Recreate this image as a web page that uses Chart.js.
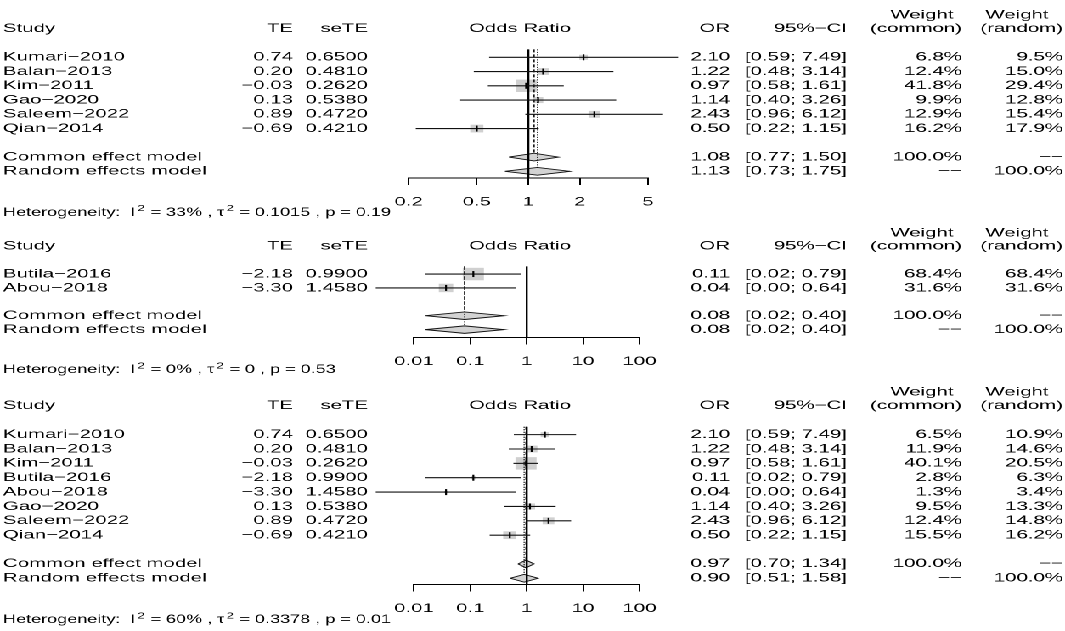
<!DOCTYPE html>
<html>
<head>
<meta charset="utf-8">
<script src="https://cdn.jsdelivr.net/npm/chart.js@4.4.1/dist/chart.umd.min.js"></script>
<style>
  html, body { margin: 0; padding: 0; background: #fff; overflow: hidden; }
  /* the reference is an R forest plot stretched sideways, so draw narrow and stretch */
  #stage { position: absolute; left: 0; top: 0; width: 627px; height: 631px; transform: scaleX(1.6986); transform-origin: 0 0; }
  #stage canvas { position: absolute; left: 0; }
</style>
</head>
<body>
<div id="stage">
  <canvas id="p1" width="627" height="226" style="top:0px"></canvas>
  <canvas id="p2" width="627" height="165" style="top:218px"></canvas>
  <canvas id="p3" width="627" height="254" style="top:377px"></canvas>
</div>
<script>
// ---- panel 1 ----
const p1Studies = ['Kumari−2010', 'Balan−2013', 'Kim−2011', 'Gao−2020', 'Saleem−2022', 'Qian−2014'];
const p1TE = [0.74, 0.20, -0.03, 0.13, 0.89, -0.69];
const p1seTE = [0.6500, 0.4810, 0.2620, 0.5380, 0.4720, 0.4210];
const p1OR = [2.10, 1.22, 0.97, 1.14, 2.43, 0.50];
const p1Lo = [0.59, 0.48, 0.58, 0.40, 0.96, 0.22];
const p1Hi = [7.49, 3.14, 1.61, 3.26, 6.12, 1.15];
const p1WCommon = [6.8, 12.4, 41.8, 9.9, 12.9, 16.2];
const p1WRandom = [9.5, 15.0, 29.4, 12.8, 15.4, 17.9];
const p1Common = [1.08, 0.77, 1.50];
const p1Random = [1.13, 0.73, 1.75];
const p1Ticks = [0.2, 0.5, 1, 2, 5];
const p1Het = ['33%', '0.1015', '0.19'];

// ---- panel 2 ----
const p2Studies = ['Butila−2016', 'Abou−2018'];
const p2TE = [-2.18, -3.30];
const p2seTE = [0.9900, 1.4580];
const p2OR = [0.113, 0.037];
const p2Lo = [0.016, 0.0021];
const p2Hi = [0.79, 0.64];
const p2WCommon = [68.4, 31.6];
const p2WRandom = [68.4, 31.6];
const p2Common = [0.079, 0.016, 0.396];
const p2Random = [0.079, 0.016, 0.396];
const p2Ticks = [0.01, 0.1, 1, 10, 100];
const p2Het = ['0%', '0', '0.53'];

// ---- panel 3 ----
const p3Studies = ['Kumari−2010', 'Balan−2013', 'Kim−2011', 'Butila−2016', 'Abou−2018', 'Gao−2020', 'Saleem−2022', 'Qian−2014'];
const p3TE = [0.74, 0.20, -0.03, -2.18, -3.30, 0.13, 0.89, -0.69];
const p3seTE = [0.6500, 0.4810, 0.2620, 0.9900, 1.4580, 0.5380, 0.4720, 0.4210];
const p3OR = [2.10, 1.22, 0.97, 0.113, 0.037, 1.14, 2.43, 0.50];
const p3Lo = [0.59, 0.48, 0.58, 0.016, 0.0021, 0.40, 0.96, 0.22];
const p3Hi = [7.49, 3.14, 1.61, 0.79, 0.64, 3.26, 6.12, 1.15];
const p3WCommon = [6.5, 11.9, 40.1, 2.8, 1.3, 9.5, 12.4, 15.5];
const p3WRandom = [10.9, 14.6, 20.5, 6.3, 3.4, 13.3, 14.8, 16.2];
const p3Common = [0.97, 0.70, 1.34];
const p3Random = [0.90, 0.51, 1.58];
const p3Ticks = [0.01, 0.1, 1, 10, 100];
const p3Het = ['60%', '0.3378', '0.01'];

const FONT = "'Liberation Sans', Arial, sans-serif";
const FSIZE = 12;
const ROW = 15;       // px per row
const TOP = 1.45;     // where the reference lines start (rows)
const COL = { study: 1.8, te: 172.5, sete: 216.6, title: 306.1, or: 429.8, ci: 498.6,
              wc: 566.3, wcHead: 542.8, wr: 625.8, wrHead: 598.7 };

const panels = [
  { id: 'p1', studies: p1Studies, te: p1TE, se: p1seTE, or: p1OR, lo: p1Lo, hi: p1Hi,
    wc: p1WCommon, wr: p1WRandom, common: p1Common, random: p1Random, ticks: p1Ticks, het: p1Het,
    left: 240.6, right: 381.5, axisY: 178 },
  { id: 'p2', studies: p2Studies, te: p2TE, se: p2seTE, or: p2OR, lo: p2Lo, hi: p2Hi,
    wc: p2WCommon, wr: p2WRandom, common: p2Common, random: p2Random, ticks: p2Ticks, het: p2Het,
    left: 243.7, right: 376.5, axisY: 119.5 },
  { id: 'p3', studies: p3Studies, te: p3TE, se: p3seTE, or: p3OR, lo: p3Lo, hi: p3Hi,
    wc: p3WCommon, wr: p3WRandom, common: p3Common, random: p3Random, ticks: p3Ticks, het: p3Het,
    left: 243.7, right: 376.5, axisY: 207.5 }
];

const fmtTE = v => (v < 0 ? '−' : '') + Math.abs(v).toFixed(2);
const fmtCI = (lo, hi) => '[' + lo.toFixed(2) + '; ' + hi.toFixed(2) + ']';

function seg(data, color, width, dash, order) {
  return { data, showLine: true, borderColor: color, borderWidth: width, borderDash: dash,
           pointRadius: 0, fill: false, clip: false, order };
}

function buildChart(p) {
  const canvas = document.getElementById(p.id);
  const H = canvas.height;
  const n = p.studies.length;
  const commonRow = n + 3, randomRow = n + 4;
  const yMin = -1.4, yMax = p.axisY / ROW - 1.4;
  const wMax = Math.max(...p.wc);

  const datasets = [];
  // no-effect line and the two pooled estimate lines
  datasets.push(seg([{ x: 1, y: TOP }, { x: 1, y: yMax }], '#000', 1.2, [], 3));
  datasets.push(seg([{ x: p.common[0], y: TOP }, { x: p.common[0], y: commonRow - 0.27 }], '#111', 0.8, [3, 2], 3));
  datasets.push(seg([{ x: p.random[0], y: TOP }, { x: p.random[0], y: randomRow - 0.27 }], '#111', 0.8, [1, 1.5], 3));
  // weight boxes
  datasets.push({
    data: p.or.map((v, i) => ({ x: v, y: i + 2 })),
    pointStyle: 'rect',
    pointRadius: p.wc.map(w => 8.8 * Math.sqrt(w / wMax)),
    backgroundColor: '#d0d0d0', borderWidth: 0, clip: false, order: 5
  });
  // confidence intervals
  p.lo.forEach((lo, i) => {
    datasets.push(seg([{ x: lo, y: i + 2 }, { x: p.hi[i], y: i + 2 }], '#111', 1.1, [], 1));
  });
  // point estimate marks
  datasets.push({
    data: p.or.map((v, i) => ({ x: v, y: i + 2 })),
    pointStyle: 'line', rotation: 90, pointRadius: 3,
    borderColor: '#000', borderWidth: 1.1, clip: false, order: 0
  });
  // diamonds
  [[p.common, commonRow], [p.random, randomRow]].forEach(([d, r]) => {
    datasets.push({
      data: [{ x: d[1], y: r }, { x: d[0], y: r - 0.27 }, { x: d[2], y: r }, { x: d[0], y: r + 0.27 }, { x: d[1], y: r }],
      showLine: true, fill: 'shape', backgroundColor: '#d3d3d3', borderColor: '#111',
      borderWidth: 0.9, pointRadius: 0, tension: 0, clip: false, order: 4
    });
  });

  const textPlugin = {
    id: 'forestText',
    afterDraw(chart) {
      const ctx = chart.ctx;
      const y = r => chart.scales.y.getPixelForValue(r);
      const put = (s, x, yy, align) => { ctx.textAlign = align; ctx.fillText(s, x, yy); };
      ctx.save();
      ctx.fillStyle = '#000';
      ctx.textBaseline = 'middle';
      ctx.font = FSIZE + 'px ' + FONT;

      put('Weight', COL.wcHead, y(-0.95), 'center');
      put('Weight', COL.wrHead, y(-0.95), 'center');
      put('Study', COL.study, y(0), 'left');
      put('TE', COL.te, y(0), 'right');
      put('seTE', COL.sete, y(0), 'right');
      put('Odds Ratio', COL.title, y(0), 'center');
      put('OR', COL.or, y(0), 'right');
      put('95%−CI', COL.ci, y(0), 'right');
      put('(common)', COL.wc, y(0), 'right');
      put('(random)', COL.wr, y(0), 'right');

      p.studies.forEach((s, i) => {
        const yy = y(i + 2);
        put(s, COL.study, yy, 'left');
        put(fmtTE(p.te[i]), COL.te, yy, 'right');
        put(p.se[i].toFixed(4), COL.sete, yy, 'right');
        put(p.or[i].toFixed(2), COL.or, yy, 'right');
        put(fmtCI(p.lo[i], p.hi[i]), COL.ci, yy, 'right');
        put(p.wc[i].toFixed(1) + '%', COL.wc, yy, 'right');
        put(p.wr[i].toFixed(1) + '%', COL.wr, yy, 'right');
      });

      const yc = y(commonRow), yr = y(randomRow);
      put('Common effect model', COL.study, yc, 'left');
      put(p.common[0].toFixed(2), COL.or, yc, 'right');
      put(fmtCI(p.common[1], p.common[2]), COL.ci, yc, 'right');
      put('100.0%', COL.wc, yc, 'right');
      put('−−', COL.wr, yc, 'right');
      put('Random effects model', COL.study, yr, 'left');
      put(p.random[0].toFixed(2), COL.or, yr, 'right');
      put(fmtCI(p.random[1], p.random[2]), COL.ci, yr, 'right');
      put('−−', COL.wc, yr, 'right');
      put('100.0%', COL.wr, yr, 'right');

      // heterogeneity line with superscripts, a bit narrower like the original font
      const yh = y(randomRow + 2.9);
      const parts = [['Heterogeneity:  I', 0], ['2', 1], [' = ' + p.het[0] + ' , τ', 0], ['2', 1],
                     [' = ' + p.het[1] + ' , p = ' + p.het[2], 0]];
      ctx.translate(COL.study, yh);
      ctx.scale(0.885, 1);
      let cx = 0;
      ctx.textAlign = 'left';
      parts.forEach(([s, sup]) => {
        ctx.font = (sup ? '8.5px ' : FSIZE + 'px ') + FONT;
        const xs = sup ? cx + 1.5 : cx;
        ctx.fillText(s, xs, sup ? -4 : 0);
        cx = xs + ctx.measureText(s).width + (sup ? 0.5 : 0);
      });
      ctx.restore();
    }
  };

  return new Chart(canvas, {
    type: 'scatter',
    data: { datasets },
    options: {
      responsive: false,
      devicePixelRatio: 2,
      animation: false,
      events: [],
      layout: { padding: { left: p.left, right: canvas.width - p.right, top: 0, bottom: 0 } },
      plugins: { legend: { display: false }, tooltip: { enabled: false } },
      scales: {
        x: {
          type: 'logarithmic',
          position: 'bottom',
          min: p.ticks[0],
          max: p.ticks[p.ticks.length - 1],
          afterBuildTicks: s => { s.ticks = p.ticks.map(v => ({ value: v })); },
          afterFit: s => { s.height = H - p.axisY; },
          border: { display: true, color: '#000', width: 1 },
          grid: { display: true, drawOnChartArea: false, drawTicks: true, tickLength: 7, color: '#000', lineWidth: 1 },
          ticks: { callback: v => String(v), color: '#000', padding: 10, maxRotation: 0, autoSkip: false,
                   font: { family: FONT, size: FSIZE } }
        },
        y: { type: 'linear', reverse: true, min: yMin, max: yMax, display: false }
      }
    },
    plugins: [textPlugin]
  });
}

panels.forEach(buildChart);
</script>
</body>
</html>
